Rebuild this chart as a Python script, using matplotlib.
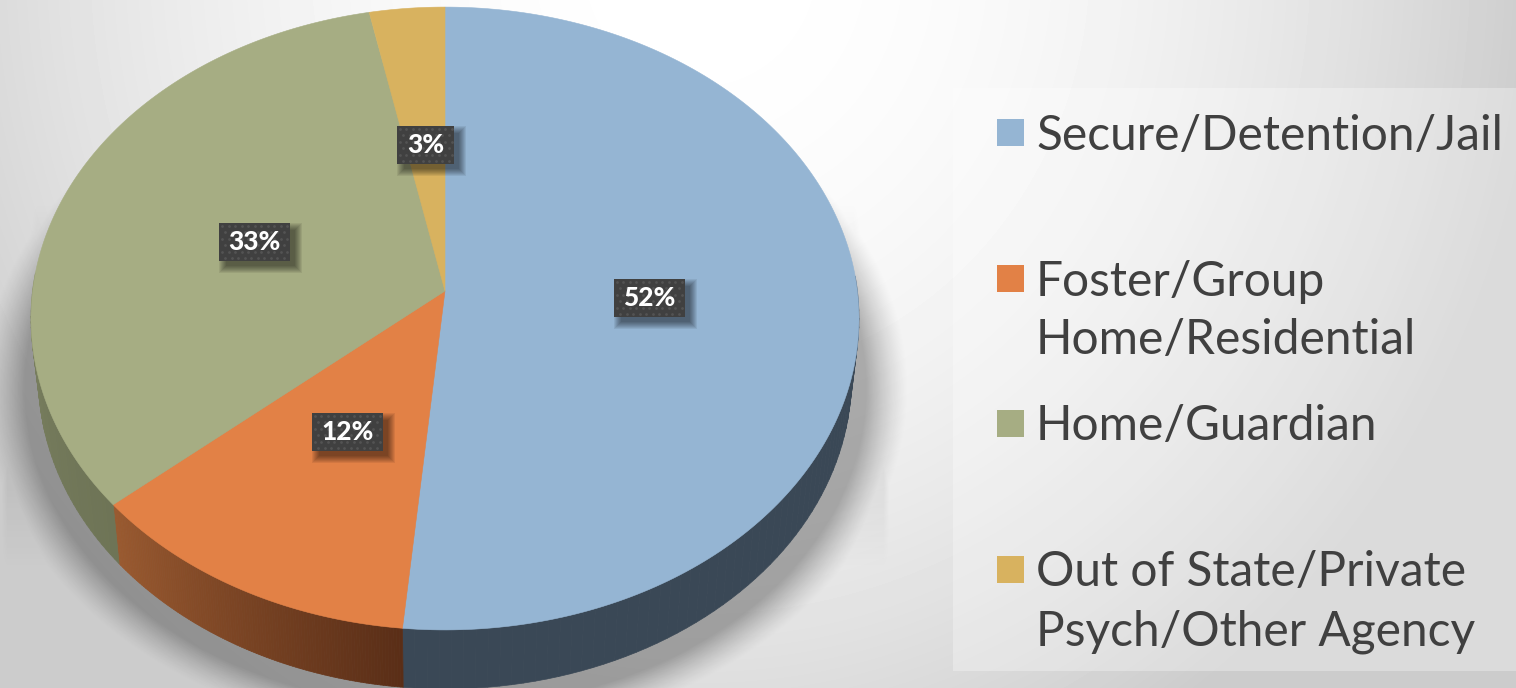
"""3D pie chart of placement types, drawn on a pixel-sized canvas."""

import numpy as np
import matplotlib
matplotlib.use("Agg")
import matplotlib.pyplot as plt
from matplotlib.collections import PolyCollection
from matplotlib.patches import Polygon, Rectangle

categories = [
    "Secure/Detention/Jail",
    "Foster/Group\nHome/Residential",
    "Home/Guardian",
    "Out of State/Private\nPsych/Other Agency",
]
shares = [51.5, 12.2, 33.1, 3.2]

top_colors = ["#95B5D3", "#E28146", "#A6AD83", "#D8B25F"]
side_dark = ["#3A4856", "#5A2E17", "#6E7456", "#7A6230"]
side_light = ["#3A4856", "#9A5A30", "#8E9470", "#A08545"]

W, H = 1516, 688

# geometry of the tilted disc (perspective seen from above)
CX, CY = 445, 291
A, B, K = 412.4, 309.0, 0.0883
DEPTH = 59
SHRINK = 0.982
LEGEND_SIZE = 34.5

plt.rcParams["font.family"] = ["Lato", "DejaVu Sans"]


def disc_point(theta, r=1.0):
    """Angle clockwise from 12 o'clock (radians) to pixel position on the top face."""
    w = 1 + K * r * np.cos(theta)
    return CX + A * r * np.sin(theta) / w, CY - B * r * np.cos(theta) / w


def draw_background(ax):
    yy, xx = np.mgrid[0:H, 0:W]
    d = np.hypot((xx - 700) / 840, (yy + 40) / 900)
    val = 1.0 - 0.2 * np.clip(d, 0, 1.0) ** 2
    ax.imshow(val, cmap="gray", vmin=0, vmax=1, extent=(0, W, H, 0), zorder=0, aspect="auto")

    # darker soft rim under the disc
    rim = np.hypot((xx - CX) / 425, (yy - 388) / 322)
    dark = np.clip((1.09 - rim) / 0.10, 0, 1) ** 1.3 * 0.3

    # pale cast shadow flaring out to both sides, fading at top and bottom
    half = 414 + 30 * np.clip((yy - 220) / 250, 0, 1)
    edge = np.clip((half - np.abs(xx - CX)) / 6, 0, 1)
    pale = edge * 0.09 * np.clip((yy - 200) / 130, 0, 1) * np.clip((570 - yy) / 130, 0, 1)

    rgba = np.zeros((H, W, 4))
    rgba[..., 3] = np.clip(np.maximum(dark, pale), 0, 1)
    ax.imshow(rgba, extent=(0, W, H, 0), zorder=1, aspect="auto")


def draw_pie(ax):
    edges = np.concatenate([[0], np.cumsum(shares)]) / np.sum(shares) * 2 * np.pi

    # side wall first, only the front of the disc shows it
    for i in range(len(shares)):
        thetas = np.linspace(edges[i], edges[i + 1], 120)
        x, y = disc_point(thetas)
        x2 = CX + (x - CX) * SHRINK
        y2 = y + DEPTH
        quads, cols = [], []
        c0 = np.array(matplotlib.colors.to_rgb(side_dark[i]))
        c1 = np.array(matplotlib.colors.to_rgb(side_light[i]))
        for j in range(len(thetas) - 1):
            if np.cos(thetas[j]) > 0.05:
                continue
            quads.append([(x[j], y[j]), (x[j + 1], y[j + 1]), (x2[j + 1], y2[j + 1]), (x2[j], y2[j])])
            t = j / (len(thetas) - 2)
            cols.append(c0 + (c1 - c0) * t)
        if quads:
            ax.add_collection(PolyCollection(quads, facecolors=cols, edgecolors=cols, linewidths=0.5, zorder=2))

    # top face
    for i in range(len(shares)):
        thetas = np.linspace(edges[i], edges[i + 1], 200)
        x, y = disc_point(thetas)
        pts = np.column_stack([np.r_[CX, x], np.r_[CY, y]])
        ax.add_patch(Polygon(pts, closed=True, facecolor=top_colors[i], edgecolor=top_colors[i],
                             linewidth=0.4, zorder=3))

    # value labels at half radius of each wedge
    for i, share in enumerate(shares):
        lx, ly = disc_point((edges[i] + edges[i + 1]) / 2, 0.495)
        ly -= 0.5
        text = f"{share:.0f}%"
        hw = 28.5 if len(text) == 2 else 35.5
        for grow in range(6, -2, -1):
            ax.add_patch(Rectangle((lx - hw + 6 - grow, ly - 19 + 6 - grow), 2 * hw + 2 * grow, 38 + 2 * grow,
                                   facecolor="black", alpha=0.07, edgecolor="none", zorder=4))
        ax.add_patch(Rectangle((lx - hw, ly - 19), 2 * hw, 38, facecolor="#404040", edgecolor="none", zorder=5))
        dx = np.arange(lx - hw + 3, lx + hw, 6.5)
        dy = np.arange(ly - 16, ly + 19, 6.5)
        gx, gy = np.meshgrid(dx, dy)
        gx[1::2] += 3.2
        keep = gx < lx + hw - 1
        ax.scatter(gx[keep], gy[keep], s=4, color="#535353", linewidths=0, zorder=6)
        ax.text(lx, ly + 0.5, text, color="white", fontsize=19, fontweight="black",
                ha="center", va="center", zorder=7)


def draw_legend(ax):
    ax.add_patch(Rectangle((953, 88), W - 953, 583, facecolor="white", alpha=0.3, edgecolor="none", zorder=1.5))
    swatch_top = [119, 265, 410, 556]
    for name, color, top in zip(categories, top_colors, swatch_top):
        ax.add_patch(Rectangle((997, top), 27, 27, facecolor=color, edgecolor="none", zorder=3))
        for k, line in enumerate(name.split("\n")):
            ax.text(1036, top + 30.5 + k * 58.5, line, color="#404040", fontsize=LEGEND_SIZE,
                    ha="left", va="baseline", zorder=3)


def main():
    fig = plt.figure(figsize=(W / 100, H / 100), dpi=100)
    ax = fig.add_axes([0, 0, 1, 1])
    draw_background(ax)
    draw_pie(ax)
    draw_legend(ax)
    ax.set_xlim(0, W)
    ax.set_ylim(H, 0)
    ax.axis("off")
    fig.savefig("out.png", dpi=100)
    plt.close(fig)


if __name__ == "__main__":
    main()
